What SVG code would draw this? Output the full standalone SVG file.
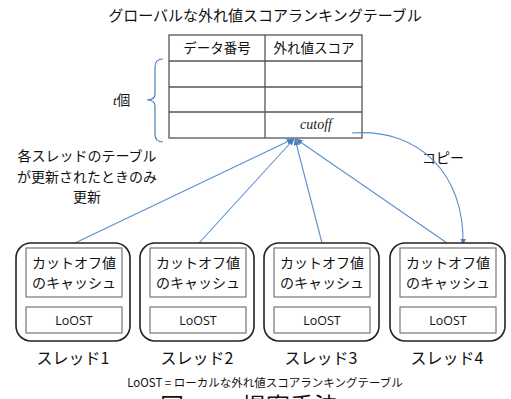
<svg xmlns="http://www.w3.org/2000/svg" width="511" height="399" viewBox="0 0 511 399">
<defs>
<style>
.jp{font-family:"Noto Sans CJK JP","Noto Sans",sans-serif;fill:#111}
.tbl{fill:none;stroke:#555;stroke-width:1.3}
.thread{fill:#fff;stroke:#222;stroke-width:1.6}
.inner{fill:#fff;stroke:#777;stroke-width:1.2}
.conn{fill:none;stroke:#5b8fd0;stroke-width:1.1}
.lat{font-family:"Open Sans","Noto Sans",sans-serif;fill:#111}
</style>
<marker id="ah" viewBox="0 0 10 10" refX="9" refY="5" markerWidth="7" markerHeight="7" orient="auto" markerUnits="userSpaceOnUse">
<path d="M0,1 L10,5 L0,9 z" fill="#4a7ebb"/>
</marker>
</defs>
<rect width="511" height="399" fill="#fff"/>
<text class="jp" x="265" y="21" font-size="15" text-anchor="middle">グローバルな外れ値スコアランキングテーブル</text>
<g id="table">
<rect class="tbl" x="169" y="35" width="193" height="103"/>
<line class="tbl" x1="265" y1="35" x2="265" y2="138"/>
<line class="tbl" x1="169" y1="61" x2="362" y2="61"/>
<line class="tbl" x1="169" y1="87" x2="362" y2="87"/>
<line class="tbl" x1="169" y1="112" x2="362" y2="112"/>
<text class="jp" x="217" y="53" font-size="13.5" text-anchor="middle">データ番号</text>
<text class="jp" x="314" y="53" font-size="13.5" text-anchor="middle">外れ値スコア</text>
<text x="316" y="129" font-size="14" font-style="italic" font-family="Liberation Serif,serif" text-anchor="middle" fill="#222">cutoff</text>
</g>
<g id="brace">
<path d="M163,59 Q155,59 155,67 L155,94 Q155,100 147,100 Q155,100 155,106 L155,134 Q155,142 163,142" fill="none" stroke="#4a7ebb" stroke-width="1.2"/>
<text x="113" y="105" font-size="13.5" font-family="Liberation Serif,serif" font-style="italic" fill="#111">t<tspan class="jp" font-style="normal" font-size="13.5">個</tspan></text>
</g>
<g id="note">
<text class="jp" font-size="14" text-anchor="middle"><tspan x="87" y="161">各スレッドのテーブル</tspan><tspan x="87" y="182">が更新されたときのみ</tspan><tspan x="87" y="202">更新</tspan></text>
<text class="jp" x="443" y="163" font-size="14" text-anchor="middle">コピー</text>
</g>
<g id="connectors">
<line class="conn" x1="75" y1="243" x2="293" y2="139" marker-end="url(#ah)"/>
<line class="conn" x1="199" y1="243" x2="294" y2="139" marker-end="url(#ah)"/>
<line class="conn" x1="322" y1="243" x2="295" y2="139" marker-end="url(#ah)"/>
<line class="conn" x1="447" y1="243" x2="296" y2="139" marker-end="url(#ah)"/>
<path class="conn" d="M352,133 C420,128 465,175 463,245" marker-end="url(#ah)"/>
</g>
<g id="thread1">
<rect class="thread" x="16" y="243" width="114" height="98" rx="15"/>
<rect class="inner" x="26" y="248" width="96" height="49"/>
<text class="jp" x="74" y="268" font-size="14" text-anchor="middle">カットオフ値</text>
<text class="jp" x="74" y="288" font-size="14" text-anchor="middle">のキャッシュ</text>
<rect class="inner" x="26" y="307" width="96" height="26"/>
<text class="lat" x="74" y="325" font-size="12.5" text-anchor="middle">LoOST</text>
<text class="jp" x="73" y="364" font-size="16" text-anchor="middle">スレッド1</text>
</g>
<g id="thread2">
<rect class="thread" x="140" y="243" width="114" height="98" rx="15"/>
<rect class="inner" x="150" y="248" width="96" height="49"/>
<text class="jp" x="198" y="268" font-size="14" text-anchor="middle">カットオフ値</text>
<text class="jp" x="198" y="288" font-size="14" text-anchor="middle">のキャッシュ</text>
<rect class="inner" x="150" y="307" width="96" height="26"/>
<text class="lat" x="198" y="325" font-size="12.5" text-anchor="middle">LoOST</text>
<text class="jp" x="197" y="364" font-size="16" text-anchor="middle">スレッド2</text>
</g>
<g id="thread3">
<rect class="thread" x="264" y="243" width="115" height="98" rx="15"/>
<rect class="inner" x="274" y="248" width="96" height="49"/>
<text class="jp" x="322" y="268" font-size="14" text-anchor="middle">カットオフ値</text>
<text class="jp" x="322" y="288" font-size="14" text-anchor="middle">のキャッシュ</text>
<rect class="inner" x="274" y="307" width="96" height="26"/>
<text class="lat" x="322" y="325" font-size="12.5" text-anchor="middle">LoOST</text>
<text class="jp" x="321" y="364" font-size="16" text-anchor="middle">スレッド3</text>
</g>
<g id="thread4">
<rect class="thread" x="390" y="243" width="115" height="98" rx="15"/>
<rect class="inner" x="400" y="248" width="96" height="49"/>
<text class="jp" x="448" y="268" font-size="14" text-anchor="middle">カットオフ値</text>
<text class="jp" x="448" y="288" font-size="14" text-anchor="middle">のキャッシュ</text>
<rect class="inner" x="400" y="307" width="96" height="26"/>
<text class="lat" x="448" y="325" font-size="12.5" text-anchor="middle">LoOST</text>
<text class="jp" x="447" y="364" font-size="16" text-anchor="middle">スレッド4</text>
</g>
<text class="jp" x="265" y="387" font-size="11.5" text-anchor="middle">LoOST = ローカルな外れ値スコアランキングテーブル</text>
<text class="jp" x="160" y="415" font-size="24">図</text>
<text class="jp" x="242" y="415" font-size="24">提案手法</text>
</svg>
